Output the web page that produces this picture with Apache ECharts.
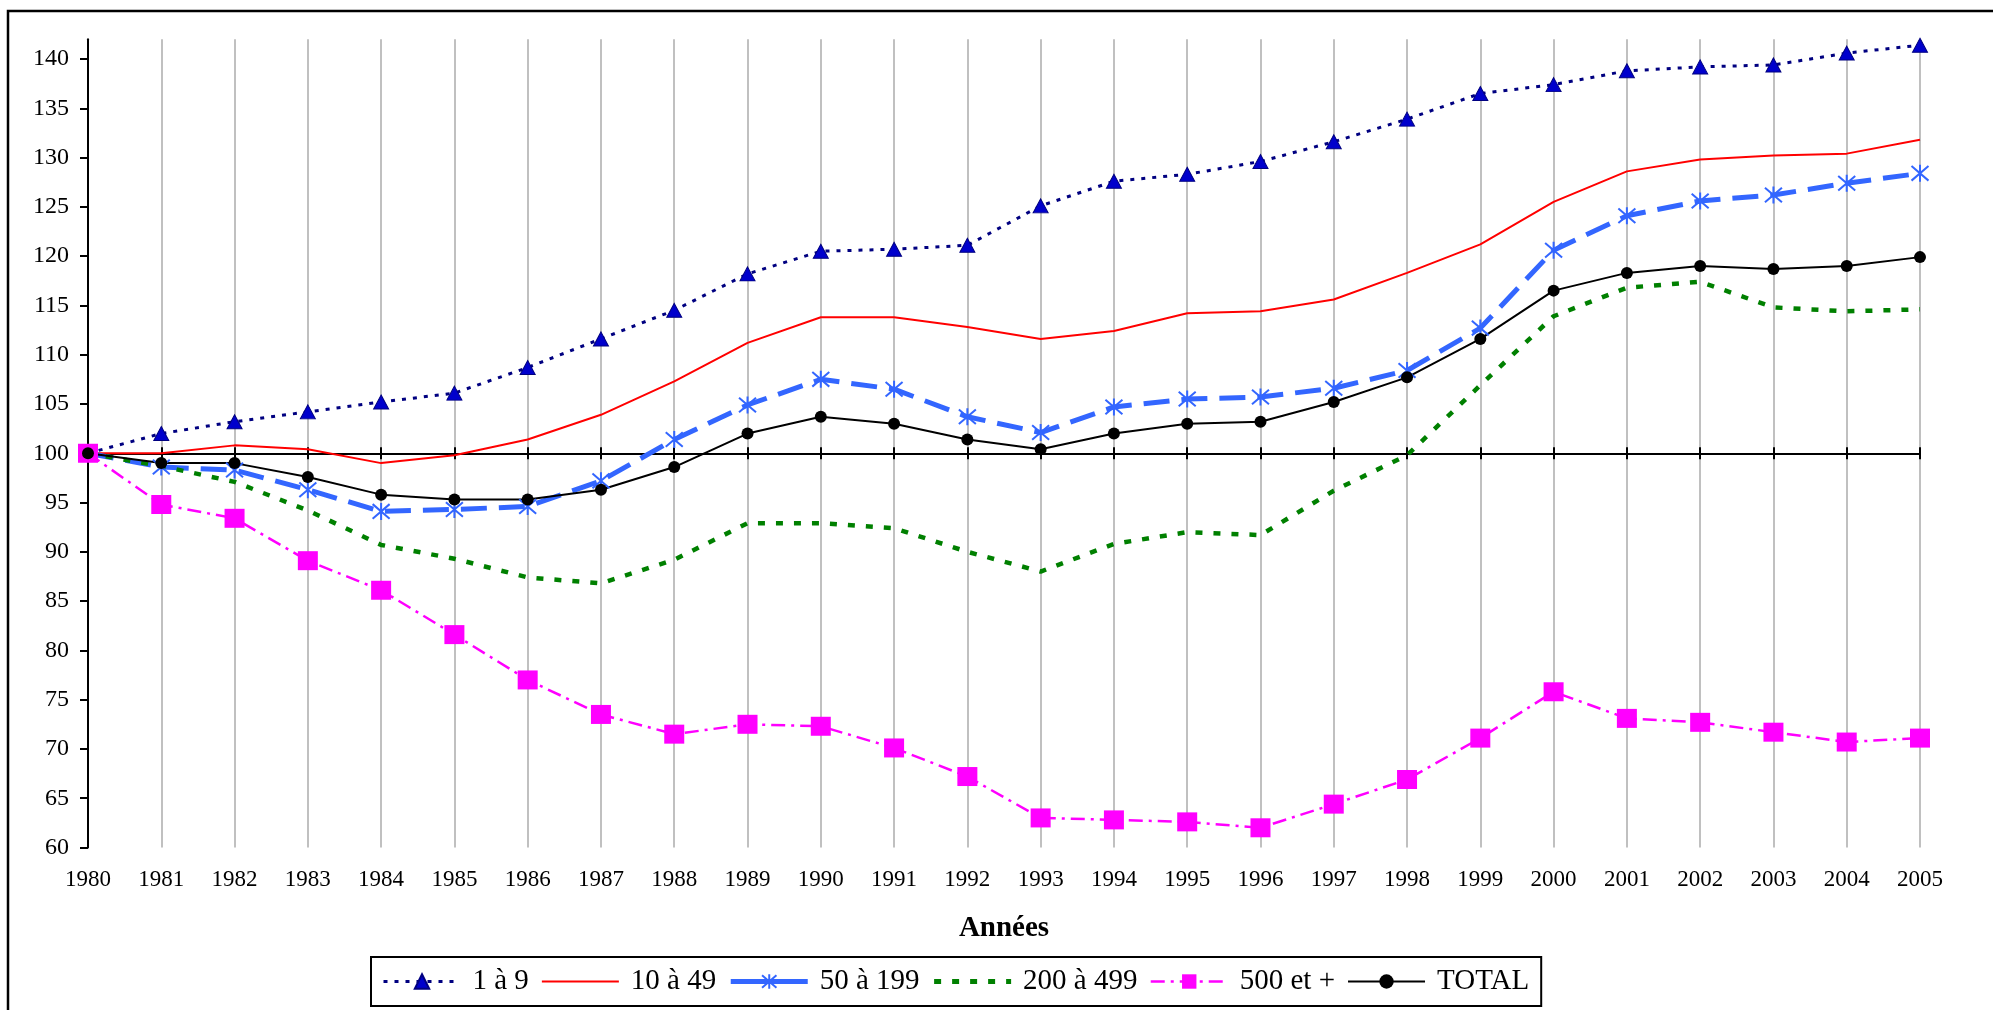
<!DOCTYPE html>
<html><head><meta charset="utf-8">
<script src="https://cdn.jsdelivr.net/npm/echarts@6/dist/echarts.min.js"></script>
<style>html,body{margin:0;padding:0;background:#fff}#c{width:1993px;height:1010px}</style>
</head><body><div id="c"></div>
<script>
const years = ['1980','1981','1982','1983','1984','1985','1986','1987','1988','1989','1990','1991','1992','1993','1994','1995','1996','1997','1998','1999','2000','2001','2002','2003','2004','2005'];
const yTicks = [60,65,70,75,80,85,90,95,100,105,110,115,120,125,130,135,140];
const s1a9   = [100,102.0,103.2,104.2,105.2,106.1,108.7,111.6,114.5,118.2,120.5,120.7,121.1,125.1,127.6,128.3,129.6,131.6,133.9,136.5,137.4,138.8,139.2,139.4,140.6,141.4];
const s10a49 = [100,100.0,100.8,100.4,99.0,99.8,101.4,103.9,107.3,111.2,113.8,113.8,112.8,111.6,112.4,114.2,114.4,115.6,118.3,121.2,125.5,128.6,129.8,130.2,130.4,131.8];
const s50a199 = [100,98.6,98.3,96.3,94.1,94.3,94.6,97.2,101.4,104.9,107.5,106.5,103.7,102.1,104.7,105.5,105.7,106.6,108.4,112.7,120.6,124.1,125.6,126.2,127.4,128.4];
const s200a499 = [100,98.7,97.1,94.2,90.7,89.3,87.4,86.8,89.2,92.9,92.9,92.4,90.0,88.0,90.8,92.0,91.7,96.2,99.8,106.9,113.9,116.8,117.4,114.8,114.4,114.6];
const s500 = [100,94.8,93.4,89.1,86.1,81.6,77.0,73.5,71.5,72.5,72.3,70.1,67.2,63.0,62.8,62.6,62.0,64.4,66.9,71.1,75.8,73.1,72.7,71.7,70.7,71.1];
const sTotal = [100,99.0,99.0,97.6,95.8,95.3,95.3,96.3,98.6,102.0,103.7,103.0,101.4,100.4,102.0,103.0,103.2,105.2,107.7,111.6,116.5,118.3,119.0,118.7,119.0,119.9];
const names = ['1 à 9','10 à 49','50 à 199','200 à 499','500 et +','TOTAL'];

const FF = 'Liberation Serif';
const chart = echarts.init(document.getElementById('c'), null, {renderer:'canvas'});
const catAxisBase = {type:'category', data: years, boundaryGap:false};
const noSym = {color:'rgba(0,0,0,0)', borderWidth:0, opacity:0};
chart.setOption({
  animation:false,
  backgroundColor:'#fff',
  textStyle:{fontFamily:FF},
  graphic:[{type:'rect', z:-10, shape:{x:8,y:11,width:2100,height:1100}, style:{fill:'#fff', stroke:'#000', lineWidth:2.5}}],
  grid:[
    {left:88, right:73, top:39.3, bottom:162.5},
    {left:88, right:73, top:39.3, bottom:556.7}
  ],
  xAxis:[
    Object.assign({}, catAxisBase, {gridIndex:0,
      axisLine:{show:false}, axisTick:{show:false},
      axisLabel:{interval:0, margin:21, fontSize:23, fontFamily:FF, color:'#000'},
      splitLine:{show:true, interval:0, lineStyle:{color:'#c0c0c0', width:2}},
      name:'Années', nameLocation:'middle', nameGap:67,
      nameTextStyle:{fontSize:29, fontWeight:'bold', fontFamily:FF, color:'#000'}}),
    Object.assign({}, catAxisBase, {gridIndex:1, position:'bottom',
      axisLine:{show:true, onZero:false, lineStyle:{color:'#000', width:2}},
      axisTick:{show:true, inside:true, length:6, interval:0, lineStyle:{color:'#000', width:2}},
      axisLabel:{show:false}, splitLine:{show:false}}),
    Object.assign({}, catAxisBase, {gridIndex:1, position:'bottom',
      axisLine:{show:false, onZero:false},
      axisTick:{show:true, inside:false, length:6, interval:0, lineStyle:{color:'#000', width:2}},
      axisLabel:{show:false}, splitLine:{show:false}})
  ],
  yAxis:[
    {gridIndex:0, type:'value', min:60, max:142, interval:5,
      axisLine:{show:true, lineStyle:{color:'#000', width:2}},
      axisTick:{show:true, length:8, lineStyle:{color:'#000', width:2}, customValues:yTicks},
      axisLabel:{show:true, margin:19, fontSize:24, fontFamily:FF, color:'#000',
        formatter: function (v) { return yTicks.indexOf(v) >= 0 ? String(v) : ''; }},
      splitLine:{show:false}},
    {gridIndex:1, type:'value', min:100, max:142, show:false, splitLine:{show:false}}
  ],
  legend:{
    left:371, top:957, padding:[10,12,10,11], itemGap:12, itemWidth:77, itemHeight:18,
    borderColor:'#000', borderWidth:2, backgroundColor:'#fff',
    textStyle:{fontFamily:FF, fontSize:29, color:'#000', padding:[0,0,0,7]},
    data:[
      {name:names[0], lineStyle:{width:3}},
      {name:names[1], itemStyle:noSym, lineStyle:{width:2}},
      {name:names[2], lineStyle:{width:5, type:'solid'}},
      {name:names[3], itemStyle:noSym, lineStyle:{width:5}},
      {name:names[4], lineStyle:{width:2.5}},
      {name:names[5], lineStyle:{width:2}}
    ]
  },
  series:[
    {name:names[0], type:'line', data:s1a9, symbol:'triangle', symbolSize:[15,14],
      lineStyle:{color:'#000080', width:3, type:[4,7]},
      itemStyle:{color:'#0000CC', borderColor:'#000080', borderWidth:1}},
    {name:names[1], type:'line', data:s10a49, symbol:'none', showSymbol:false,
      lineStyle:{color:'#FF0000', width:2}, itemStyle:{color:'#FF0000'}},
    {name:names[2], type:'line', data:s50a199, symbol:'path://M1,1L13,13M13,1L1,13M7,0L7,14', symbolSize:17,
      lineStyle:{color:'#3366FF', width:5, type:[26,12]},
      itemStyle:{color:'#3366FF', borderColor:'#3366FF', borderWidth:2}},
    {name:names[3], type:'line', data:s200a499, symbol:'none', showSymbol:false,
      lineStyle:{color:'#008000', width:4.5, type:[7,11]}, itemStyle:{color:'#008000'}},
    {name:names[4], type:'line', data:s500, symbol:'rect', symbolSize:[20,19],
      lineStyle:{color:'#FF00FF', width:2.5, type:[14,6,3,6]},
      itemStyle:{color:'#FF00FF'}},
    {name:names[5], type:'line', data:sTotal, symbol:'circle', symbolSize:12,
      lineStyle:{color:'#000', width:2}, itemStyle:{color:'#000'}}
  ]
});
</script></body></html>
